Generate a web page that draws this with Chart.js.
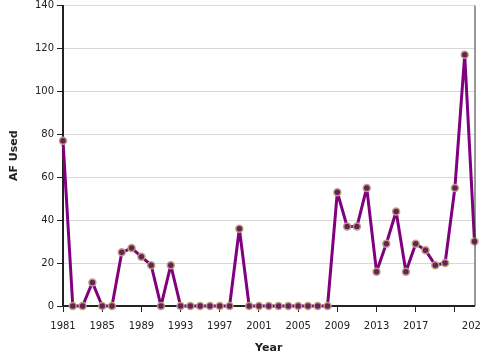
<!DOCTYPE html>
<html><head><meta charset="utf-8">
<script src="https://cdn.jsdelivr.net/npm/chart.js@4.4.1/dist/chart.umd.min.js"></script>
<style>html,body{margin:0;padding:0;background:#fff}#wrap{width:480px;height:360px}</style>
</head><body><div id="wrap"><canvas id="c" width="480" height="360"></canvas></div>
<script>
const years = [1981,1982,1983,1984,1985,1986,1987,1988,1989,1990,1991,1992,1993,1994,1995,1996,1997,1998,1999,2000,2001,2002,2003,2004,2005,2006,2007,2008,2009,2010,2011,2012,2013,2014,2015,2016,2017,2018,2019,2020,2021,2022,2023];
const afUsed = [77,0,0,11,0,0,25,27,23,19,0,19,0,0,0,0,0,0,36,0,0,0,0,0,0,0,0,0,53,37,37,55,16,29,44,16,29,26,19,20,55,117,30];
const xTicks = [1981,1985,1989,1993,1997,2001,2005,2009,2013,2017,2021,2023];
const yTicks = [0,20,40,60,80,100,120,140];

const font = {family:'DejaVu Sans', size:10};
const borderPlugin = {
  id:'rightBorder',
  afterDraw(chart){
    const {ctx, chartArea:a} = chart;
    ctx.save();
    ctx.strokeStyle = '#333';
    ctx.lineWidth = 1;
    ctx.beginPath();
    ctx.moveTo(a.right+0.5, a.top);
    ctx.lineTo(a.right+0.5, a.bottom);
    ctx.stroke();
    ctx.restore();
  }
};

new Chart(document.getElementById('c'), {
  type:'line',
  data:{datasets:[{
    data: years.map((y,i)=>({x:y, y:afUsed[i]})),
    borderColor:'#800080',
    borderWidth:3,
    borderJoinStyle:'round',
    borderCapStyle:'round',
    tension:0,
    pointRadius:3.5,
    pointBackgroundColor:'#6a1f58',
    pointBorderColor:'rgba(185,165,125,0.95)',
    pointBorderWidth:1.5,
    clip:false
  }]},
  options:{
    responsive:false,
    animation:false,
    devicePixelRatio:1,
    layout:{padding:{top:4,right:4,left:0,bottom:0}},
    plugins:{legend:{display:false},tooltip:{enabled:false}},
    scales:{
      x:{
        type:'linear', min:1981, max:2023,
        afterBuildTicks(s){ s.ticks = xTicks.map(v=>({value:v})); },
        afterFit(s){ s.paddingLeft=0; s.paddingRight=0; s.height=54; },
        ticks:{font, color:'#222', padding:8, maxRotation:0, autoSkip:false,
          callback:v=> v===2021 ? '' : String(v)},
        grid:{drawOnChartArea:false, tickLength:6, tickWidth:1,
          tickColor:c=> (c.tick && c.tick.value===2023) ? 'rgba(0,0,0,0)' : '#222'},
        border:{color:'#222', width:2},
        title:{display:true, text:'Year', font:{family:'DejaVu Sans', size:11, weight:'bold'}, color:'#222', padding:{top:4,bottom:5}}
      },
      y:{
        min:0, max:140,
        afterBuildTicks(s){ s.ticks = yTicks.map(v=>({value:v})); },
        afterFit(s){ s.paddingTop=0; s.paddingBottom=0; s.width=63; },
        ticks:{font, color:'#222', padding:3},
        grid:{color:'#d8d8d8', lineWidth:1, tickLength:6, tickColor:'#222'},
        border:{color:'#222', width:2},
        title:{display:true, text:'AF Used', font:{family:'DejaVu Sans', size:11, weight:'bold'}, color:'#222', padding:{top:8,bottom:0}}
      }
    }
  },
  plugins:[borderPlugin]
});
</script></body></html>
